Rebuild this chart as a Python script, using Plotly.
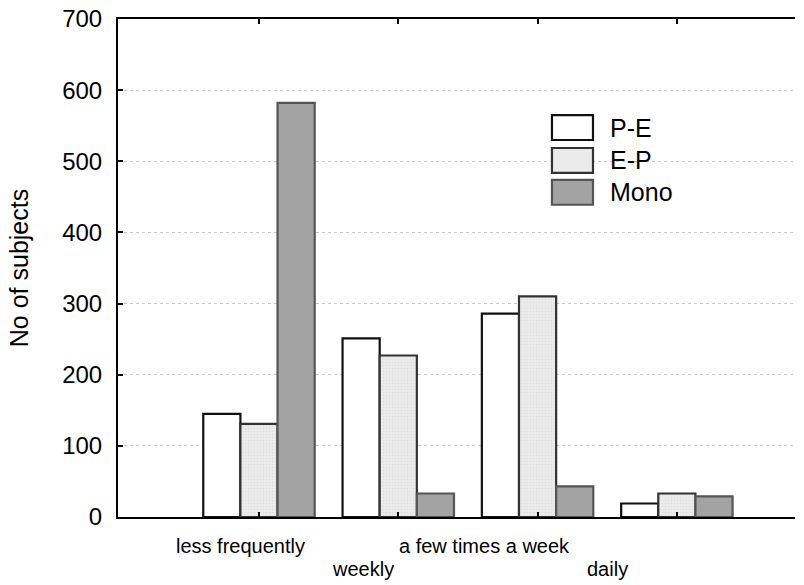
import plotly.graph_objects as go

categories = ["less frequently", "weekly", "a few times a week", "daily"]
series_names = ["P-E", "E-P", "Mono"]
pe_values = [145, 251, 286, 19]
ep_values = [131, 227, 310, 33]
mono_values = [582, 33, 43, 29]
y_ticks = [0, 100, 200, 300, 400, 500, 600, 700]

series_values = [pe_values, ep_values, mono_values]
fill_colors = ["#ffffff", "#ebebeb", "#a3a3a3"]
line_colors = ["#111111", "#333333", "#555555"]
patterns = [None, dict(shape=".", fgcolor="#d2d2d2", bgcolor="#ebebeb", size=3, solidity=0.25), None]

FONT = "Liberation Sans, Arial, sans-serif"
x_idx = list(range(len(categories)))

fig = go.Figure()
for name, vals, fc, lc, pat in zip(series_names, series_values, fill_colors, line_colors, patterns):
    marker = dict(color=fc, line=dict(color=lc, width=2.2))
    if pat:
        marker["pattern"] = pat
    fig.add_trace(go.Bar(x=x_idx, y=vals, name=name, marker=marker, showlegend=False))

# category labels (staggered, offset as in the original)
label_x = [-0.13, 0.75, 1.62, 2.50]
label_y = [-0.058, -0.104, -0.058, -0.104]
for lab, lx, ly in zip(categories, label_x, label_y):
    fig.add_annotation(text=lab, x=lx, y=ly, xref="x", yref="paper", showarrow=False,
                       xanchor="center", yanchor="middle", font=dict(size=20, color="black", family=FONT))

# legend drawn as boxes + text
leg_x0, leg_x1, leg_tx = 0.641, 0.7016, 0.724
leg_top = [0.807, 0.741, 0.677]
box_h = 0.050
for name, fc, lc, top in zip(series_names, fill_colors, line_colors, leg_top):
    fig.add_shape(type="rect", xref="paper", yref="paper", x0=leg_x0, x1=leg_x1,
                  y0=top - box_h, y1=top, fillcolor=fc, line=dict(color=lc, width=2.2))
    fig.add_annotation(text=name, x=leg_tx, y=top - box_h / 2, xref="paper", yref="paper",
                       showarrow=False, xanchor="left", yanchor="middle",
                       font=dict(size=25, color="black", family=FONT))

fig.update_layout(
    width=804, height=585,
    margin=dict(l=118, r=9, t=19, b=68, autoexpand=False),
    paper_bgcolor="white", plot_bgcolor="white",
    barmode="group", bargap=0.2, bargroupgap=0,
    font=dict(family=FONT, color="black"),
    xaxis=dict(range=[-1.012, 3.848], tickvals=x_idx, ticktext=["" for _ in x_idx],
               ticks="inside", ticklen=5, tickwidth=2, tickcolor="black",
               showline=True, linecolor="black", linewidth=2, mirror="ticks",
               showgrid=False, zeroline=False, automargin=False),
    yaxis=dict(range=[0, 700], tickvals=y_ticks, ticks="inside", ticklen=5, tickwidth=2,
               tickcolor="black", showline=True, linecolor="black", linewidth=2,
               showgrid=True, gridcolor="#c8c8c8", griddash="dot", gridwidth=1,
               zeroline=False, tickfont=dict(size=24, family=FONT), ticklabelstandoff=9,
               automargin=False,
               title=dict(text="No of subjects", font=dict(size=25, family=FONT), standoff=26)),
)

fig.write_html("out.html", config={"displayModeBar": False},
               post_script="document.body.style.margin='0';document.documentElement.style.overflow='hidden';")
